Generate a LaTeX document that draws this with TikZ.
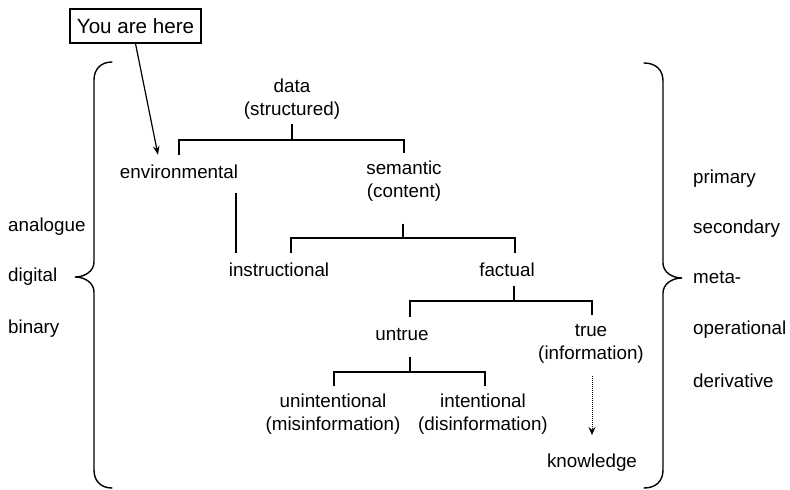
\documentclass[tikz,border=0pt]{standalone}
\usepackage{fontspec}
\setmainfont{Liberation Sans}
\usetikzlibrary{arrows.meta}
\begin{document}
\begin{tikzpicture}[x=1pt,y=-1pt,
  every node/.style={font=\fontsize{18.8}{23}\selectfont, inner sep=0pt},
  lbl/.style={align=center},
  side/.style={anchor=west},
  conn/.style={line width=1.5pt},
  brace/.style={line width=1.4pt, line cap=round},
  youbox/.style={draw, line width=1.2pt, minimum width=131pt, minimum height=34pt, font=\fontsize{20.6}{24}\selectfont},
  pointer/.style={line width=1.2pt, -{Stealth[length=9pt,width=6.5pt]}},
  dotarrow/.style={line width=1pt, densely dotted, -{Stealth[length=8pt,width=7pt]}}
]
\useasboundingbox (0,0) rectangle (790,490);

% nodes
\node[youbox] (yah) at (135.5,26) {You are here};
\node[lbl] (data) at (292,99.5) {data\\(structured)};
\node (env) at (179,172) {environmental};
\node[lbl] (sem) at (404,181.5) {semantic\\(content)};
\node (instr) at (279,270) {instructional};
\node (fact) at (507,270) {factual};
\node (untrue) at (402,335) {untrue};
\node[lbl] (true) at (591,343.5) {true\\(information)};
\node[lbl] (unint) at (333,414) {unintentional\\(misinformation)};
\node[lbl] (inten) at (483,414) {intentional\\(disinformation)};
\node (know) at (592,463) {knowledge};

\node[side] (analogue) at (8,227) {analogue};
\node[side] (digital) at (8,277) {digital};
\node[side] (binary) at (8,329) {binary};

\node[side] (primary) at (693,179) {primary};
\node[side] (secondary) at (693,229) {secondary};
\node[side] (meta) at (693,278) {meta-};
\node[side] (oper) at (693,330) {operational};
\node[side] (deriv) at (693,381) {derivative};

% junction coordinates
\coordinate (j1) at (292,140);
\coordinate (j2) at (403,238);
\coordinate (tl2) at (291,238);
\coordinate (tr2) at (515,238);
\coordinate (j3) at (514,301);
\coordinate (tl3) at (410,301);
\coordinate (tr3) at (592,301);
\coordinate (j4) at (410,372);
\coordinate (tl4) at (334,372);
\coordinate (tr4) at (485,372);
\coordinate (vx) at (236,0);
\coordinate (dx) at (592,0);

% pointer
\draw[pointer] (yah.south) -- ([xshift=-21pt,yshift=10pt]env.north);

% bracket 1
\draw[conn, shorten <=4pt] (data.south) -- (data.south |- j1);
\draw[conn, shorten <=10pt, shorten >=8pt] (env.north) |- (j1) -| (sem.north);
% env to instructional
\draw[conn, shorten <=14pt, shorten >=10pt] (env.south -| vx) -- (instr.north -| vx);
% bracket 2
\draw[conn, shorten <=22pt] (sem.south -| j2) -- (j2);
\draw[conn, shorten <=10pt, shorten >=10pt] (instr.north -| tl2) |- (tr2) -- (fact.north -| tr2);
% bracket 3
\draw[conn, shorten <=9pt] (fact.south -| j3) -- (j3);
\draw[conn, shorten <=12pt, shorten >=9pt] (untrue.north -| tl3) |- (tr3) -- (true.north -| tr3);
% bracket 4
\draw[conn, shorten <=16pt] (untrue.south -| j4) -- (j4);
\draw[conn, shorten <=8pt, shorten >=8pt] (unint.north -| tl4) |- (tr4) -- (inten.north -| tr4);
% dotted arrow
\draw[dotarrow, shorten <=13pt, shorten >=19pt] (true.south -| dx) -- (know.north -| dx);

% left brace
\draw[brace] (112,62) .. controls (101,62) and (94,69) .. (94,80)
  -- (94,262) .. controls (94,271) and (85,277) .. (75,277)
  .. controls (85,277) and (94,283) .. (94,292)
  -- (94,470) .. controls (94,481) and (101,488) .. (112,488);
% right brace
\draw[brace] (644,63) .. controls (656,63) and (663,70) .. (663,81)
  -- (663,263) .. controls (663,272) and (672,278) .. (682,278)
  .. controls (672,278) and (663,284) .. (663,293)
  -- (663,470) .. controls (663,481) and (656,488) .. (644,488);
\end{tikzpicture}
\end{document}
